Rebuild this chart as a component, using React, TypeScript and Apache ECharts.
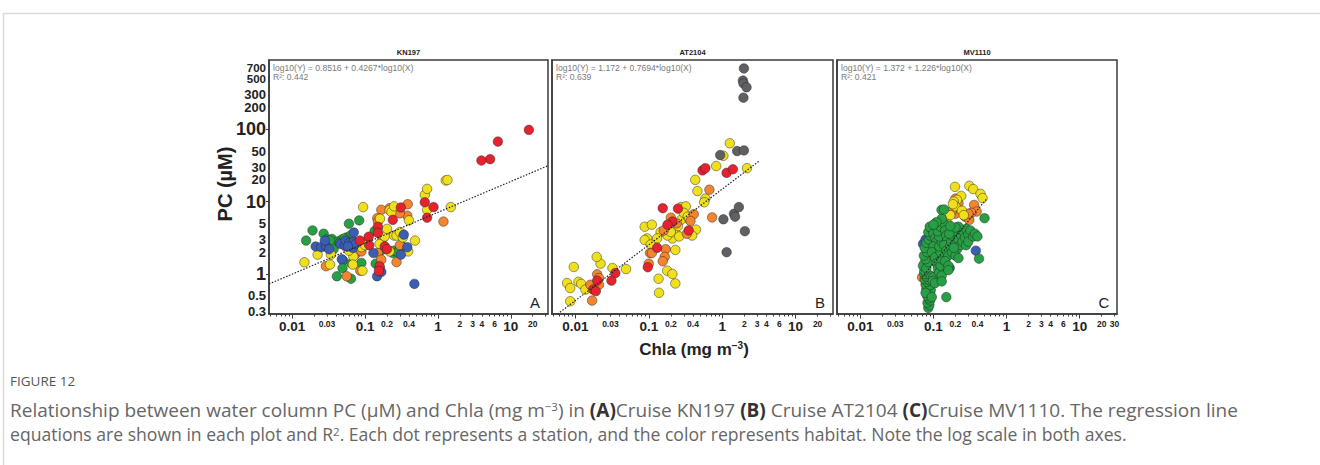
import React, { useEffect, useRef } from 'react';
import * as echarts from 'echarts';

type Pt = [number, number];

// ---- axis extents (mg m-3 and µM), drawn on log10 scales ----
const X_MIN = 0.0048;
const X_MAX = 32.4;
const Y_MIN = 0.28;
const Y_MAX = 905;

const xLabelValues = [0.01, 0.03, 0.1, 0.2, 0.4, 1, 2, 3, 4, 6, 10, 20];
const xLabelValuesC = [0.01, 0.03, 0.1, 0.2, 0.4, 1, 2, 3, 4, 6, 10, 20, 30];
const xBigLabels = [0.01, 0.1, 1, 10];
const xDecadeTicks = [0.01, 0.1, 1, 10];
const xMinorTicks = [
  0.005, 0.006, 0.007, 0.008, 0.009,
  0.02, 0.03, 0.04, 0.05, 0.06, 0.07, 0.08, 0.09,
  0.2, 0.3, 0.4, 0.5, 0.6, 0.7, 0.8, 0.9,
  2, 3, 4, 5, 6, 7, 8, 9,
  20, 30,
];
// 500 sits on its own axis so that it is not dropped beside 700
const yLabelValues = [0.3, 0.5, 1, 2, 3, 5, 10, 20, 30, 50, 100, 200, 300, 700];
const yLabelValuesExtra = [500];
const yBigLabels = [1, 10, 100];
const yTightLabels = [500, 700];
const yDecadeTicks = [1, 10, 100];

const cruises = ['KN197', 'AT2104', 'MV1110'];
const panelLetters = ['A', 'B', 'C'];
const equations = [
  'log10(Y) = 0.8516 + 0.4267*log10(X)',
  'log10(Y) = 1.172 + 0.7694*log10(X)',
  'log10(Y) = 1.372 + 1.226*log10(X)',
];
const rSquared = ['R²: 0.442', 'R²: 0.639', 'R²: 0.421'];
// regression coefficients and the Chla span each fitted line covers
const regIntercept = [0.8516, 1.172, 1.372];
const regSlope = [0.4267, 0.7694, 1.226];
const regFrom = [0.0048, 0.0057, 0.07];
const regTo = [32.4, 3.2, 0.53];

// habitat colours
const GREEN = '#27a044';
const BLUE = '#3b5db4';
const YELLOW = '#f0e01c';
const ORANGE = '#f4842e';
const RED = '#e5222e';
const GRAY = '#5f6063';

// ---- KN197 stations: [Chla, PC] ----
const kn197Green: Pt[] = [
  [0.0155, 2.9], [0.019, 4.0], [0.027, 3.6], [0.03, 3.0], [0.035, 3.05], [0.037, 2.2], [0.041, 0.93],
  [0.042, 2.8], [0.048, 3.0], [0.05, 1.53], [0.049, 1.2], [0.056, 3.2], [0.06, 4.95], [0.063, 3.4],
  [0.064, 0.86], [0.068, 2.6], [0.066, 2.3], [0.065, 1.4], [0.083, 5.5], [0.089, 1.42], [0.135, 3.9],
  [0.14, 1.39], [0.17, 2.15], [0.24, 1.95], [0.25, 2.1], [0.3, 2.2], [0.32, 2.4], [0.28, 2.0],
  [0.033, 2.9], [0.045, 2.7], [0.058, 2.75], [0.052, 3.1],
];
const kn197Orange: Pt[] = [
  [0.217, 8.1], [0.167, 7.7], [0.385, 9.2], [0.38, 6.4], [0.3, 6.9], [0.147, 5.9], [0.15, 5.3],
  [1.19, 5.3], [0.173, 3.07], [0.3, 2.5], [0.073, 1.85], [0.15, 1.95], [0.167, 1.58], [0.27, 1.46],
  [0.029, 1.28], [0.056, 0.93], [0.086, 1.11], [0.089, 2.05], [0.16, 1.2],
];
const kn197Yellow: Pt[] = [
  [0.0147, 1.45], [0.0223, 1.85], [0.034, 1.85], [0.033, 1.35], [0.094, 8.4], [0.089, 2.35],
  [0.092, 1.11], [0.158, 2.6], [0.186, 3.3], [0.2, 4.2], [0.217, 7.6], [0.23, 7.2], [0.25, 8.6],
  [0.25, 3.4], [0.27, 3.4], [0.3, 3.8], [0.33, 3.2], [0.217, 2.05], [0.39, 2.05], [0.4, 5.5],
  [0.485, 2.9], [0.66, 12.4], [0.71, 15], [0.71, 7.7], [1.28, 19.6], [1.35, 19.9], [1.5, 8.4],
  [0.069, 1.75], [0.068, 1.35], [0.105, 2.8], [0.1, 2.5], [0.06, 2.1], [0.16, 5.8],
];
const kn197Blue: Pt[] = [
  [0.021, 2.4], [0.025, 2.35], [0.029, 2.4], [0.032, 2.2], [0.028, 2.9], [0.046, 2.6], [0.048, 1.6],
  [0.053, 2.45], [0.054, 2.9], [0.061, 2.7], [0.07, 2.8], [0.07, 3.75], [0.068, 2.3], [0.074, 2.6],
  [0.13, 1.95], [0.146, 0.93], [0.167, 1.07], [0.34, 3.5], [0.31, 1.85], [0.38, 2.35], [0.475, 0.73],
  [0.058, 2.4],
];
const kn197Red: Pt[] = [
  [17.7, 98], [6.65, 67.5], [5.2, 38.6], [3.95, 37], [0.66, 9.8], [0.87, 8.4], [0.71, 6.0],
  [0.31, 8.3], [0.24, 5.6], [0.15, 4.5], [0.15, 3.7], [0.112, 3.27], [0.085, 2.9], [0.114, 2.5],
  [0.186, 2.4], [0.2, 2.2], [0.158, 1.28], [0.155, 1.1],
];

// ---- AT2104 stations ----
const at2104Yellow: Pt[] = [
  [1.27, 64], [2.18, 29], [0.83, 31], [1.04, 43], [0.43, 20], [0.46, 14], [0.59, 11], [0.57, 9.8],
  [0.275, 8.4], [0.32, 8.6], [0.088, 4.5], [0.11, 4.8], [0.275, 5.6], [0.36, 5.6], [0.44, 4.1],
  [0.39, 3.4], [0.24, 3.5], [0.21, 3.1], [0.18, 3.4], [0.145, 3.8], [0.13, 3.1], [0.095, 3.1],
  [0.088, 2.95], [0.106, 2.55], [0.23, 2.15], [0.178, 1.11], [0.21, 1.0], [0.136, 0.86], [0.23, 0.74],
  [0.138, 0.55], [0.049, 1.17], [0.032, 1.21], [0.022, 1.39], [0.0195, 1.72], [0.0095, 1.25],
  [0.0077, 0.75], [0.0085, 0.64], [0.011, 0.78], [0.012, 0.73], [0.0137, 0.61], [0.0085, 0.42],
  [0.25, 4.6], [0.3, 7.0], [0.34, 6.2], [0.2, 3.8], [0.26, 3.3],
];
const at2104Orange: Pt[] = [
  [0.67, 14.6], [0.73, 6.05], [0.41, 6.7], [0.2, 6.0], [0.16, 4.0], [0.33, 3.6], [0.104, 1.95],
  [0.11, 1.95], [0.17, 2.2], [0.165, 1.73], [0.155, 1.5], [0.1, 1.39], [0.0198, 0.99], [0.021, 0.88],
  [0.016, 0.71], [0.021, 0.71], [0.0169, 0.43], [0.24, 5.0], [0.37, 5.4],
];
const at2104Red: Pt[] = [
  [0.54, 27], [0.59, 29], [1.15, 25], [1.4, 28], [0.155, 8.1], [0.25, 8.0], [0.21, 5.3], [0.18, 4.8],
  [0.35, 4.0], [0.13, 2.3], [0.097, 1.24], [0.035, 1.03], [0.031, 0.81], [0.0198, 0.81],
  [0.0175, 0.61], [0.019, 0.58],
];
const at2104Gray: Pt[] = [
  [1.98, 693], [1.92, 470], [1.95, 431], [2.15, 380], [1.95, 273], [0.94, 44], [1.6, 50], [1.98, 51],
  [1.04, 5.7], [1.45, 6.8], [1.5, 6.2], [1.69, 8.4], [2.04, 3.9], [1.15, 2.0],
];

// ---- MV1110 stations ----
const mv1110Blue: Pt[] = [
  [0.38, 2.1], [0.072, 2.6], [0.167, 1.21], [0.15, 1.3], [0.1, 3.5], [0.12, 1.9], [0.09, 1.6], [0.078, 3.0],
];
const mv1110Orange: Pt[] = [
  [0.2, 11], [0.22, 9.5], [0.2, 6.8], [0.27, 6.2], [0.31, 5.6], [0.36, 9], [0.39, 7.3], [0.33, 7.0],
  [0.3, 6.8], [0.18, 7.5], [0.13, 3.3], [0.095, 2.8], [0.15, 2.5], [0.085, 1.7], [0.2, 2.9], [0.07, 0.9],
  [0.11, 4.0],
];
const mv1110Yellow: Pt[] = [
  [0.197, 16], [0.31, 16.5], [0.35, 14.9], [0.44, 12.8], [0.47, 11.2], [0.24, 12], [0.21, 10.6],
  [0.19, 10], [0.2, 8.6], [0.185, 9.2], [0.245, 7.5], [0.215, 4.4], [0.15, 5.6], [0.26, 6.5],
  [0.17, 6.5], [0.09, 2.2], [0.1, 3.0], [0.075, 1.4], [0.14, 3.5], [0.12, 2.6], [0.16, 4.8], [0.08, 0.8],
];
const mv1110Green: Pt[] = [
  [0.085, 0.34], [0.088, 0.37], [0.083, 0.4], [0.09, 0.43], [0.086, 0.46], [0.082, 0.5], [0.09, 0.53],
  [0.085, 0.57], [0.08, 0.62], [0.092, 0.6], [0.084, 0.67], [0.078, 0.72], [0.09, 0.7], [0.082, 0.78],
  [0.076, 0.85], [0.088, 0.82], [0.08, 0.92], [0.075, 1.0], [0.092, 0.95], [0.1, 0.9], [0.098, 0.8],
  [0.105, 0.75], [0.078, 0.55], [0.095, 0.48],
  [0.075, 1.1], [0.072, 1.3], [0.08, 1.2], [0.085, 1.45], [0.078, 1.6], [0.074, 1.8], [0.082, 2.0],
  [0.076, 2.3], [0.08, 2.7], [0.086, 3.0], [0.09, 3.4], [0.085, 3.8], [0.095, 4.2], [0.089, 4.5],
  [0.1, 3.6], [0.105, 3.1], [0.11, 2.8], [0.1, 2.4], [0.095, 2.0], [0.105, 1.7], [0.11, 1.4],
  [0.115, 1.2], [0.12, 1.05], [0.13, 0.95], [0.125, 1.3], [0.13, 1.6], [0.125, 2.0], [0.12, 2.4],
  [0.13, 2.8], [0.12, 3.3], [0.115, 3.9], [0.125, 4.5], [0.14, 5.0], [0.13, 5.8], [0.129, 7.7],
  [0.14, 7.8], [0.145, 4.0], [0.15, 3.4], [0.155, 2.9], [0.14, 2.5], [0.15, 2.1], [0.16, 1.8],
  [0.145, 1.5], [0.16, 1.3], [0.16, 1.13], [0.13, 0.79], [0.17, 2.4], [0.18, 2.0], [0.175, 2.8],
  [0.18, 3.4], [0.19, 3.9], [0.2, 2.6], [0.21, 2.2], [0.2, 1.8], [0.22, 1.66], [0.22, 3.0],
  [0.235, 2.5], [0.24, 3.4], [0.25, 2.8], [0.26, 3.8], [0.27, 3.2], [0.28, 2.5], [0.28, 4.2],
  [0.3, 3.5], [0.3, 2.8], [0.32, 4.0], [0.35, 3.3], [0.37, 3.6], [0.4, 3.3], [0.42, 1.63], [0.5, 5.9],
  [0.15, 0.48], [0.22, 4.5], [0.19, 2.3], [0.165, 3.6], [0.2, 4.4], [0.11, 5.2], [0.1, 4.8], [0.17, 4.6],
];

// habitat groups per panel, listed in drawing order
const panelGroups: { data: Pt[]; color: string }[][] = [
  [
    { data: kn197Green, color: GREEN },
    { data: kn197Orange, color: ORANGE },
    { data: kn197Yellow, color: YELLOW },
    { data: kn197Blue, color: BLUE },
    { data: kn197Red, color: RED },
  ],
  [
    { data: at2104Yellow, color: YELLOW },
    { data: at2104Orange, color: ORANGE },
    { data: at2104Red, color: RED },
    { data: at2104Gray, color: GRAY },
  ],
  [
    { data: mv1110Blue, color: BLUE },
    { data: mv1110Orange, color: ORANGE },
    { data: mv1110Yellow, color: YELLOW },
    { data: mv1110Green, color: GREEN },
  ],
];

const grids = [
  { left: 269, top: 60, width: 279, height: 254 },
  { left: 552, top: 60, width: 281, height: 254 },
  { left: 837, top: 60, width: 280, height: 254 },
];

const AX = '#3a3a3a';
const FONT = '"Liberation Sans", Arial, sans-serif';
const CAPTION_FONT = '"Open Sans", sans-serif';
const lg = (v: number) => Math.log10(v);

function labelFormatter(values: number[], big: number[], tight: number[] = []) {
  return (v: number) => {
    const hit = values.find((l) => Math.abs(lg(l) - v) < 1e-6);
    if (hit === undefined) return '';
    if (big.includes(hit)) return `{b|${hit}}`;
    if (tight.includes(hit)) return `{t|${hit}}`;
    return `{s|${hit}}`;
  };
}

const yRich = {
  b: { fontSize: 18, fontWeight: 'bold', fontFamily: FONT, color: '#222' },
  s: { fontSize: 13, fontWeight: 'bold', fontFamily: FONT, color: '#222' },
  // the two top labels sit close together, so they are set tighter
  t: { fontSize: 11.5, lineHeight: 10, fontWeight: 'bold', fontFamily: FONT, color: '#222' },
};

export default function App() {
  const ref = useRef<HTMLDivElement>(null);

  useEffect(() => {
    if (!ref.current) return;
    const chart = echarts.init(ref.current, undefined, { renderer: 'svg' });

    const xAxis: any[] = [];
    const yAxis: any[] = [];
    const series: any[] = [];

    grids.forEach((_, gi) => {
      const labels = gi === 2 ? xLabelValuesC : xLabelValues;
      xAxis.push({
        type: 'value',
        gridIndex: gi,
        position: 'bottom',
        min: lg(X_MIN),
        max: lg(X_MAX),
        splitLine: { show: false },
        axisLine: { show: true, onZero: false, lineStyle: { color: AX, width: 1.5 } },
        axisTick: {
          show: true,
          customValues: xMinorTicks.map(lg),
          length: 2.5,
          lineStyle: { color: AX, width: 1 },
        },
        axisLabel: {
          show: true,
          customValues: labels.map(lg),
          margin: 5,
          hideOverlap: false,
          showMinLabel: true,
          showMaxLabel: true,
          formatter: labelFormatter(labels, xBigLabels),
          rich: {
            b: { fontSize: 13.5, fontWeight: 'bold', fontFamily: FONT, color: '#222' },
            s: { fontSize: 8.5, fontWeight: 'bold', fontFamily: FONT, color: '#222' },
          },
        },
      });
      xAxis.push({
        type: 'value',
        gridIndex: gi,
        position: 'bottom',
        min: lg(X_MIN),
        max: lg(X_MAX),
        splitLine: { show: false },
        axisLine: { show: false, onZero: false },
        axisLabel: { show: false },
        axisTick: {
          show: true,
          customValues: xDecadeTicks.map(lg),
          length: 4.5,
          lineStyle: { color: AX, width: 1 },
        },
      });
      yAxis.push({
        type: 'value',
        gridIndex: gi,
        position: 'left',
        min: lg(Y_MIN),
        max: lg(Y_MAX),
        splitLine: { show: false },
        axisLine: { show: true, onZero: false, lineStyle: { color: AX, width: 1.5 } },
        axisTick: {
          show: gi === 0,
          customValues: yDecadeTicks.map(lg),
          length: 3,
          lineStyle: { color: AX, width: 1 },
        },
        axisLabel: {
          show: gi === 0,
          customValues: yLabelValues.map(lg),
          margin: 3,
          hideOverlap: false,
          showMinLabel: true,
          showMaxLabel: true,
          formatter: labelFormatter(yLabelValues, yBigLabels, yTightLabels),
          rich: yRich,
        },
      });

      panelGroups[gi].forEach((g) => {
        series.push({
          type: 'scatter',
          xAxisIndex: gi * 2,
          yAxisIndex: gi,
          data: g.data.map(([x, y]) => [lg(x), lg(y)]),
          symbol: 'circle',
          symbolSize: 9.5,
          itemStyle: { color: g.color, borderColor: 'rgba(35,35,35,0.6)', borderWidth: 0.8, opacity: 1 },
          z: 2,
        });
      });

      // fitted regression line: log10(Y) = a + b*log10(X)
      const a = regIntercept[gi];
      const b = regSlope[gi];
      series.push({
        type: 'line',
        xAxisIndex: gi * 2,
        yAxisIndex: gi,
        data: [regFrom[gi], regTo[gi]].map((x) => [lg(x), a + b * lg(x)]),
        symbol: 'none',
        lineStyle: { color: '#222', width: 1.2, type: [1.5, 1.6] },
        clip: true,
        z: 3,
      });
    });

    // extra label-only axis on panel A carrying the 500 label
    yAxis.push({
      type: 'value',
      gridIndex: 0,
      position: 'left',
      offset: 0,
      min: lg(Y_MIN),
      max: lg(Y_MAX),
      splitLine: { show: false },
      axisLine: { show: false, onZero: false },
      axisTick: { show: false },
      axisLabel: {
        show: true,
        customValues: yLabelValuesExtra.map(lg),
        margin: 3,
        hideOverlap: false,
        showMinLabel: true,
        showMaxLabel: true,
        formatter: labelFormatter(yLabelValuesExtra, yBigLabels, yTightLabels),
        rich: yRich,
      },
    });

    const capRich = {
      b: { fontWeight: 'bold', fontFamily: CAPTION_FONT, fill: '#333' },
      sup: { fontSize: 11.5, fontFamily: CAPTION_FONT, fill: '#666', verticalAlign: 'top' },
    };

    const graphic: any[] = [
      {
        type: 'rect',
        shape: { x: 3.5, y: 13.5, width: 1400, height: 600 },
        style: { fill: 'none', stroke: '#d9d9d9', lineWidth: 1.5 },
        silent: true,
      },
      {
        type: 'text',
        x: 225,
        y: 184,
        rotation: Math.PI / 2,
        style: {
          text: 'PC (µM)',
          fontSize: 20,
          fontWeight: 'bold',
          fontFamily: FONT,
          fill: '#222',
          textAlign: 'center',
          textVerticalAlign: 'middle',
        },
      },
      {
        type: 'text',
        x: 694,
        y: 349,
        style: {
          text: 'Chla (mg m{sup|−3})',
          fontSize: 17,
          fontWeight: 'bold',
          fontFamily: FONT,
          fill: '#222',
          textAlign: 'center',
          textVerticalAlign: 'middle',
          rich: {
            sup: { fontSize: 10, fontWeight: 'bold', fontFamily: FONT, fill: '#222', verticalAlign: 'top' },
          },
        },
      },
      {
        type: 'text',
        x: 10,
        y: 381,
        style: {
          text: 'FIGURE 12',
          fontSize: 13.5,
          fontFamily: CAPTION_FONT,
          fill: '#555',
          textVerticalAlign: 'middle',
        },
      },
      {
        type: 'text',
        x: 10,
        y: 410,
        style: {
          text:
            'Relationship between water column PC (µM) and Chla (mg m{sup|−3}) in {b|(A)}Cruise KN197 {b|(B)} Cruise AT2104 {b|(C)}Cruise MV1110. The regression line',
          fontSize: 19,
          fontFamily: CAPTION_FONT,
          fill: '#666',
          textVerticalAlign: 'middle',
          rich: {
            b: { ...capRich.b, fontSize: 19 },
            sup: capRich.sup,
          },
        },
      },
      {
        type: 'text',
        x: 10,
        y: 434,
        style: {
          text:
            'equations are shown in each plot and R{sup|2}. Each dot represents a station, and the color represents habitat. Note the log scale in both axes.',
          fontSize: 17.6,
          fontFamily: CAPTION_FONT,
          fill: '#666',
          textVerticalAlign: 'middle',
          rich: {
            sup: capRich.sup,
          },
        },
      },
    ];

    grids.forEach((g, gi) => {
      graphic.push({
        type: 'text',
        x: g.left + g.width / 2,
        y: 52,
        style: {
          text: cruises[gi],
          fontSize: 7.5,
          fontWeight: 'bold',
          fontFamily: FONT,
          fill: '#222',
          textAlign: 'center',
          textVerticalAlign: 'middle',
        },
      });
      graphic.push({
        type: 'text',
        x: g.left + 4,
        y: 67.5,
        style: {
          text: equations[gi],
          fontSize: 8.6,
          fontFamily: FONT,
          fill: '#7a7a7a',
          textVerticalAlign: 'middle',
        },
      });
      graphic.push({
        type: 'text',
        x: g.left + 4,
        y: 76.5,
        style: {
          text: rSquared[gi],
          fontSize: 8.6,
          fontFamily: FONT,
          fill: '#7a7a7a',
          textVerticalAlign: 'middle',
        },
      });
      graphic.push({
        type: 'text',
        x: g.left + g.width - 13,
        y: 302,
        style: {
          text: panelLetters[gi],
          fontSize: 15,
          fontFamily: FONT,
          fill: '#222',
          textAlign: 'center',
          textVerticalAlign: 'middle',
        },
      });
    });

    chart.setOption({
      animation: false,
      backgroundColor: '#ffffff',
      grid: grids.map((g) => ({
        ...g,
        show: true,
        borderColor: AX,
        borderWidth: 1.5,
        backgroundColor: 'transparent',
        containLabel: false,
        outerBoundsMode: 'none',
      })),
      xAxis,
      yAxis,
      series,
      graphic,
    });

    return () => chart.dispose();
  }, []);

  return (
    <div style={{ position: 'absolute', left: 0, top: 0, width: 1320, height: 465 }}>
      <div ref={ref} style={{ width: 1320, height: 465 }} />
    </div>
  );
}
